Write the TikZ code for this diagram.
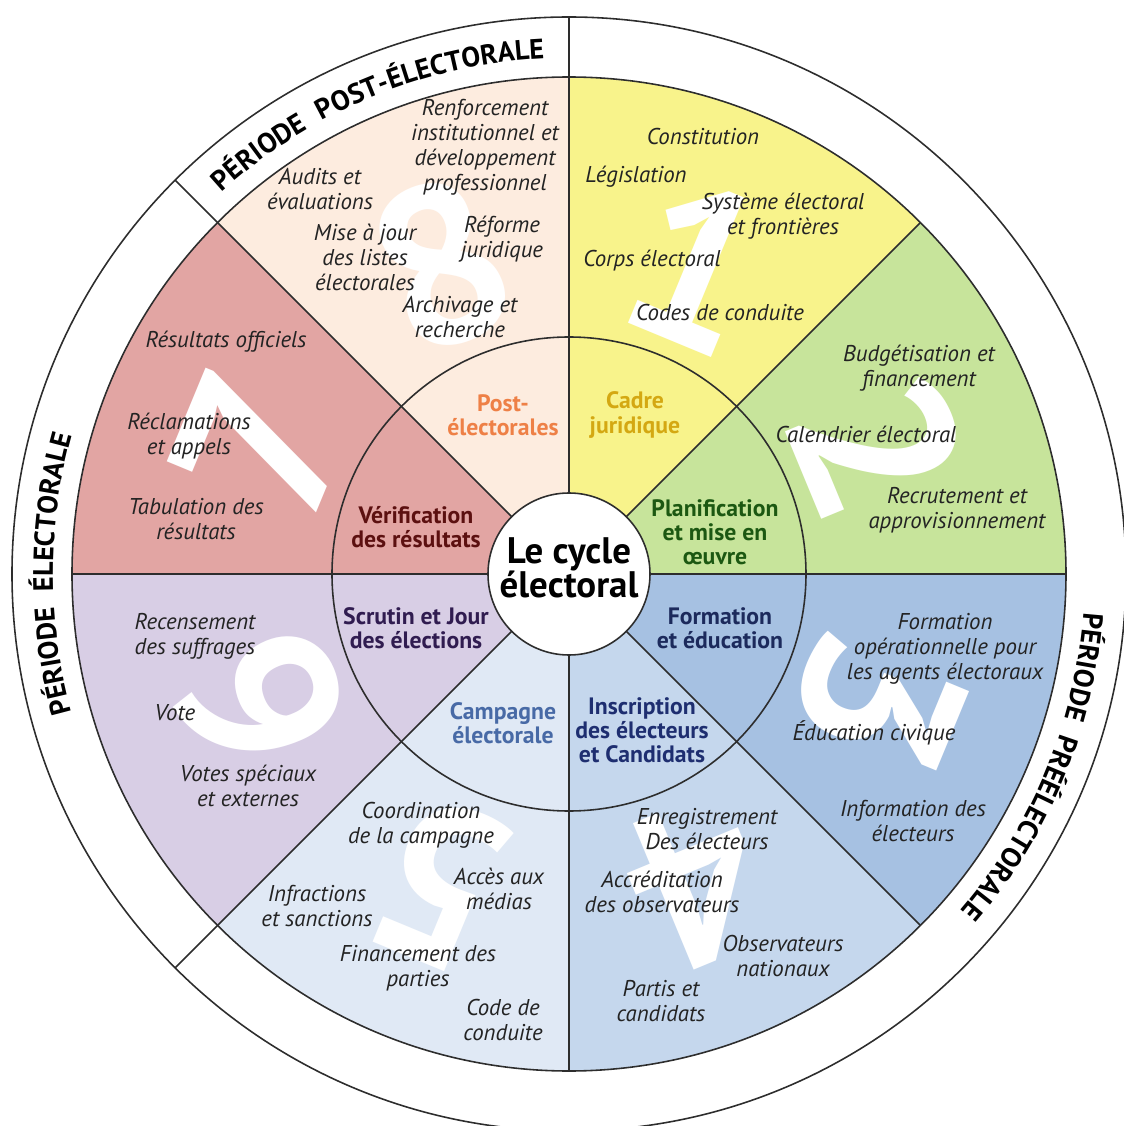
\documentclass[tikz,border=0pt]{standalone}
\usepackage{fontspec}
\setmainfont{PT Sans}
\usetikzlibrary{decorations.text}

\definecolor{legalfill}{RGB}{248,243,139}
\definecolor{planfill}{RGB}{199,228,155}
\definecolor{trainfill}{RGB}{166,193,226}
\definecolor{regisfill}{RGB}{197,215,237}
\definecolor{campfill}{RGB}{224,233,245}
\definecolor{votefill}{RGB}{216,206,229}
\definecolor{veriffill}{RGB}{226,165,163}
\definecolor{postfill}{RGB}{253,236,223}
\definecolor{legaltext}{RGB}{212,168,18}
\definecolor{plantext}{RGB}{28,88,18}
\definecolor{traintext}{RGB}{28,42,92}
\definecolor{registext}{RGB}{30,46,112}
\definecolor{camptext}{RGB}{72,106,166}
\definecolor{votetext}{RGB}{48,28,80}
\definecolor{veriftext}{RGB}{92,16,16}
\definecolor{posttext}{RGB}{238,128,70}
\definecolor{rimgray}{RGB}{45,45,45}
\definecolor{itemgray}{RGB}{35,35,35}

\newcommand{\periodfont}{\fontsize{16}{16}\selectfont\bfseries}

\tikzset{
  rim/.style={draw=rimgray, line width=0.9pt},
  item/.style={font=\fontsize{13}{14.2}\selectfont\itshape, text=itemgray, align=center, inner sep=0pt},
  phase/.style={font=\fontsize{13.5}{13.7}\selectfont\bfseries, align=center, inner sep=0pt},
  hub/.style={font=\fontsize{21}{19.5}\selectfont\bfseries, align=center, inner sep=0pt},
  bignum/.style={font=\fontsize{128}{128}\selectfont\bfseries, text=white, inner sep=0pt},
  period/.style={decorate, decoration={text along path, text align=center, text={|\periodfont|#1}}}
}

\begin{document}
\begin{tikzpicture}[x=0.02cm, y=0.02cm]
    \useasboundingbox (-569,-552) rectangle (555,574);

    % sectors with their big numbers
    \foreach \a/\col/\num [evaluate=\a as \b using \a+45,
                           evaluate=\a as \m using \a+22.5,
                           evaluate=\a as \t using \a-67.5] in
      {45/legalfill/1, 0/planfill/2, -45/trainfill/3, -90/regisfill/4,
       -135/campfill/5, 180/votefill/6, 135/veriffill/7, 90/postfill/8}{
        \fill[\col] (0,0) -- (\a:497) arc[start angle=\a, end angle=\b, radius=497] -- cycle;
        \begin{scope}
            \clip (\a:237) -- (\a:497) arc[start angle=\a, end angle=\b, radius=497]
                -- (\b:237) arc[start angle=\b, end angle=\a, radius=237] -- cycle;
            \node[bignum, rotate=\t] (num\num) at (\m:335) {\num};
        \end{scope}
    }

    % rims and spokes
    \draw[rim] (0,0) circle (557);
    \draw[rim] (0,0) circle (497);
    \draw[rim] (0,0) circle (237);
    \foreach \a in {0,45,...,315}
        \draw[rim] (\a:81) -- (\a:497);
    \foreach \a in {90,135,225}
        \draw[rim] (\a:497) -- (\a:557);
    \draw[rim, fill=white] (0,0) circle (81);

    % periods on the outer ring
    \path[period={PÉRIODE{\kern0.3em} POST-ÉLECTORALE}] (135:516) arc[start angle=135, end angle=90, radius=516];
    \path[period={PÉRIODE{\kern0.3em} ÉLECTORALE}] (225:516) arc[start angle=225, end angle=135, radius=516];
    \path[period={PÉRIODE{\kern0.3em} PRÉÉLECTORALE}] (90:516) arc[start angle=90, end angle=-135, radius=516];

    \node[hub] (hub) at (0,6) {Le cycle\\électoral};

    % phases
    \node[phase, text=posttext] (post) at (-66,159) {Post-\\électorales};
    \node[phase, text=legaltext] (legal) at (66,159) {Cadre\\juridique};
    \node[phase, text=plantext] (plan) at (146,42) {Planification\\et mise en\\œuvre};
    \node[phase, text=traintext] (train) at (151,-54) {Formation\\et éducation};
    \node[phase, text=registext] (regis) at (73,-156) {Inscription\\des électeurs\\et Candidats};
    \node[phase, text=camptext] (camp) at (-66,-149) {Campagne\\électorale};
    \node[phase, text=votetext] (vote) at (-153,-54) {Scrutin et Jour\\des élections};
    \node[phase, text=veriftext] (verif) at (-153,47) {Vérification\\des résultats};

    % post-electoral items
    \node[item] (renfo) at (-84,427) {Renforcement\\institutionnel et\\développement\\professionnel};
    \node[item] (audits) at (-249,385) {Audits et\\évaluations};
    \node[item] (listes) at (-204,317) {Mise à jour\\des listes\\électorales};
    \node[item] (reforme) at (-67,335) {Réforme\\juridique};
    \node[item] (archiv) at (-109,257) {Archivage et\\recherche};

    % legal framework items
    \node[item] (consti) at (134,437) {Constitution};
    \node[item] (legis) at (67,397) {Législation};
    \node[item] (systeme) at (214,358) {Système électoral\\et frontières};
    \node[item] (corps) at (83,313) {Corps électoral};
    \node[item] (codes) at (151,261) {Codes de conduite};

    % planning items
    \node[item] (budget) at (350,206) {Budgétisation et\\financement};
    \node[item] (calend) at (297,140) {Calendrier électoral};
    \node[item] (recrut) at (388,64) {Recrutement et\\approvisionnement};

    % training items
    \node[item] (formop) at (376,-75) {Formation\\opérationnelle pour\\les agents électoraux};
    \node[item] (civic) at (305,-159) {Éducation civique};
    \node[item] (info) at (344,-247) {Information des\\électeurs};

    % registration items
    \node[item] (enreg) at (138,-255) {Enregistrement\\Des électeurs};
    \node[item] (accred) at (93,-318) {Accréditation\\des observateurs};
    \node[item] (observ) at (214,-382) {Observateurs\\nationaux};
    \node[item] (partis) at (92,-427) {Partis et\\candidats};

    % campaign items
    \node[item] (coord) at (-148,-251) {Coordination\\de la campagne};
    \node[item] (medias) at (-70,-315) {Accès aux\\médias};
    \node[item] (infrac) at (-252,-332) {Infractions\\et sanctions};
    \node[item] (financ) at (-151,-394) {Financement des\\parties};
    \node[item] (codec) at (-66,-446) {Code de\\conduite};

    % voting items
    \node[item] (recens) at (-374,-62) {Recensement\\des suffrages};
    \node[item] (votei) at (-394,-139) {Vote};
    \node[item] (spec) at (-321,-212) {Votes spéciaux\\et externes};

    % verification items
    \node[item] (resul) at (-343,232) {Résultats officiels};
    \node[item] (reclam) at (-380,138) {Réclamations\\et appels};
    \node[item] (tabul) at (-373,55) {Tabulation des\\résultats};
\end{tikzpicture}
\end{document}
